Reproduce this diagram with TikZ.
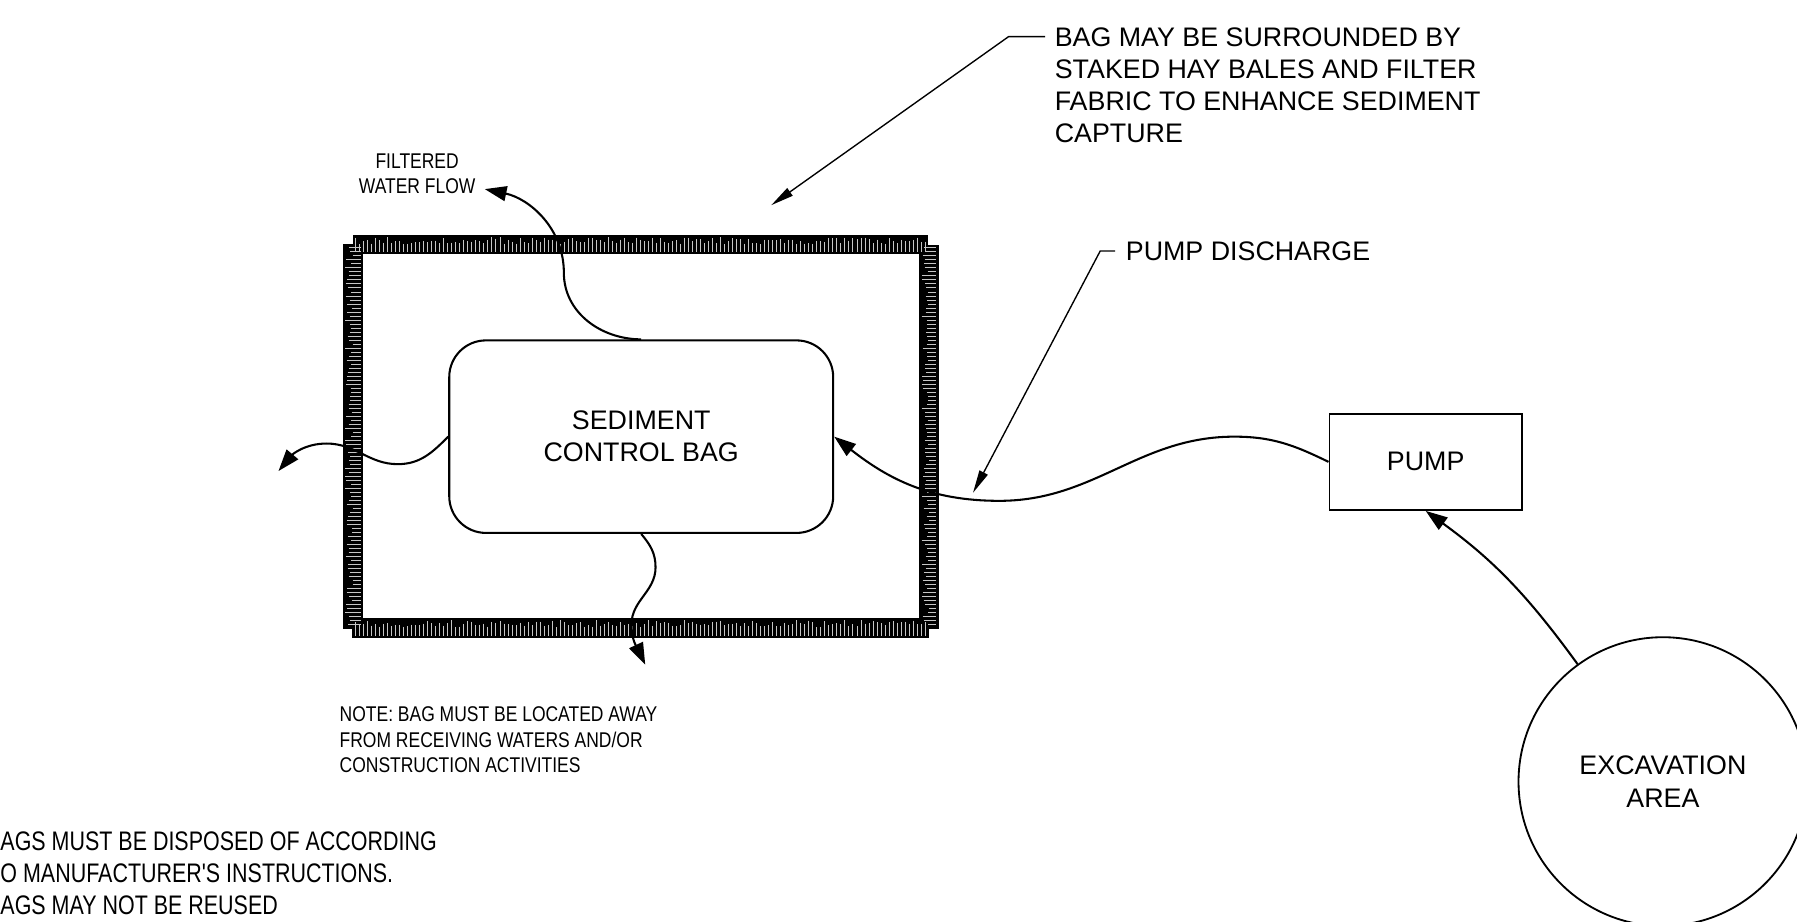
\documentclass[tikz,border=0pt]{standalone}
\usepackage{fontspec}
\setmainfont{Liberation Sans}
\setsansfont{Liberation Sans}
\newfontfamily\narrowfont[FakeStretch=0.82]{Liberation Sans}
\newfontfamily\notefont[FakeStretch=0.80]{Liberation Sans}
\usetikzlibrary{arrows.meta,calc}

\begin{document}
\begin{tikzpicture}[x=0.5pt,y=-0.5pt,font=\sffamily,
  flow/.style={line width=0.9pt,-{Triangle[length=9.5pt,width=6.5pt]}},
  leader/.style={line width=0.6pt,-{Triangle[length=10pt,width=4pt]}},
  straw/.style={gray!45,line width=0.15pt},
  big/.style={font=\fontsize{11.7}{14}\selectfont,inner sep=0pt},
  small/.style={font=\narrowfont\fontsize{9.3}{11.1}\selectfont,inner sep=0pt,align=left},
  notes/.style={font=\notefont\fontsize{11.7}{14}\selectfont,inner sep=0pt,align=left}]
 \useasboundingbox (0,0) rectangle (1568,804);

 % hay bales round the bag
 \fill (308,205) rectangle (810,222);
 \fill (307,539) rectangle (811,557);
 \fill (299,213) rectangle (317,549);
 \fill (802,214) rectangle (819,549);
 \pgfmathsetseed{3}
 \foreach \X in {310,313.5,...,808}
 {\pgfmathsetmacro{\Ya}{207+6*rnd}
  \pgfmathsetmacro{\Yb}{541+6*rnd}
  \draw[straw] (\X,\Ya) -- (\X,220) (\X,\Yb) -- (\X,555);}
 \foreach \Y in {216,219.5,...,547}
 {\pgfmathsetmacro{\Xa}{301+7*rnd}
  \pgfmathsetmacro{\Xb}{804+7*rnd}
  \draw[straw] (\Xa,\Y) -- (315,\Y) (\Xb,\Y) -- (817,\Y);}

 % bag, pump and pit
 \node[big,draw,line width=0.9pt,rounded corners=16pt,minimum width=167.5pt,
   minimum height=84pt,align=center] (bag) at (559.5,381) {SEDIMENT\\CONTROL BAG};
 \node[big,draw,line width=0.8pt,minimum width=84pt,minimum height=42pt]
   (pump) at (1244,403) {PUMP};
 \node[big,draw,line width=0.8pt,circle,minimum size=126pt,align=center]
   (exc) at (1451,682) {EXCAVATION\\AREA};

 % water path
 \draw[flow] (exc.126) to[out=126,in=-36] (pump.south);
 \coordinate (P1) at (1077,381);
 \coordinate (P2) at (872,437);
 \draw[flow] (pump.west) to[out=154,in=0] (P1) to[out=180,in=0] (P2)
   to[out=180,in=-38] (bag.east);

 % filtered water leaving the bag
 \coordinate (T1) at (492,238);
 \coordinate (Ttip) at (423,165);
 \draw[flow] (bag.north) to[out=180,in=-90] (T1) to[out=90,in=-12] (Ttip);
 \coordinate (L1) at (347,405);
 \coordinate (L2) at (285,387);
 \coordinate (Ltip) at (243,411);
 \draw[flow] (bag.west) to[out=225,in=0] (L1) to[out=180,in=0] (L2)
   to[out=180,in=50] (Ltip);
 \coordinate (B1) at (572,495);
 \coordinate (B2) at (551,545);
 \coordinate (Btip) at (563,580);
 \draw[flow] (bag.south) to[out=-50,in=90] (B1) to[out=-90,in=90] (B2)
   to[out=-90,in=115] (Btip);

 % labels and leaders
 \node[small,align=center,anchor=north] (filtered) at (364,133.5)
   {FILTERED\\WATER FLOW};
 \node[big,align=left,anchor=north west] (haynote) at (920,24)
   {BAG MAY BE SURROUNDED BY\\STAKED HAY BALES AND FILTER\\
    FABRIC TO ENHANCE SEDIMENT\\CAPTURE};
 \coordinate (hayA) at (912,32);
 \coordinate (hayB) at (880,32);
 \coordinate (hayC) at (673,179);
 \draw[leader] (hayA) -- (hayB) -- (hayC);
 \node[big,anchor=west] (discharge) at (982,219) {PUMP DISCHARGE};
 \coordinate (disA) at (973,219);
 \coordinate (disB) at (960,219);
 \coordinate (disC) at (849,430);
 \draw[leader] (disA) -- (disB) -- (disC);
 \node[small,anchor=north west] (note) at (296,616.5)
   {NOTE: BAG MUST BE LOCATED AWAY\\FROM RECEIVING WATERS AND/OR\\
    CONSTRUCTION ACTIVITIES};
 \node[notes,anchor=north west] (disposal) at (0,725.5)
   {AGS MUST BE DISPOSED OF ACCORDING\\O MANUFACTURER'S INSTRUCTIONS.\\
    AGS MAY NOT BE REUSED};
\end{tikzpicture}
\end{document}
